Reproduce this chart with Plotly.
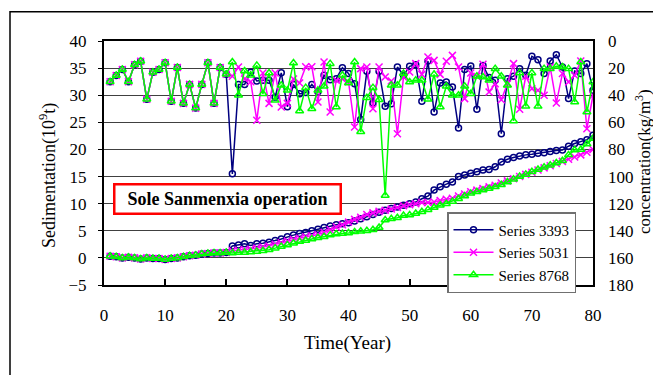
import plotly.graph_objects as go

years = list(range(1, 81))

# concentration (kg/m3), right axis, years 1-20 identical for all series
conc_common = [30, 25.5, 21, 30, 17.5, 15, 43, 23, 21, 16, 44.5, 19.5, 46, 32, 49.5, 32, 16, 46, 19.5, 24.5]
conc_3393 = conc_common + [98, 32, 32, 23, 29.5, 29, 29, 41.5, 23.5, 48.5, 32, 39, 38, 32, 37.5,
                           25.3, 28.5, 27.8, 19.7, 24, 31.5, 58, 22.4, 45.7, 22.4, 48.2, 46.2, 19.2, 25.3, 18.7,
                           17.5, 44.5, 14.8, 52.4, 31, 30.2, 34, 64.2, 21.1, 18.4, 50.4, 18, 27, 29, 68.4,
                           27.8, 26, 20.4, 25.3, 11.3, 13.8, 24, 14.8, 10.1, 19.2, 42.5, 22.1, 24, 16.7, 36.4]
conc_5031 = conc_common + [26, 19.2, 28, 30, 58.5, 23.6, 46, 23.6, 48.7, 46, 28, 31, 19, 19, 45,
                           15.5, 52.4, 29, 28, 30, 63.4, 20.4, 19.2, 50, 19.2, 26.6, 29.5, 68.4, 26.6, 22.9,
                           16.7, 24.6, 11.8, 14.3, 24.6, 15, 10.6, 19.2, 42.5, 23.6, 26, 17.2, 37.6, 31.5, 43.3,
                           31.5, 16.7, 50.4, 26, 35.2, 36.4, 40, 19.2, 45.7, 24, 30.2, 25.3, 14.8, 64.7, 40]
conc_8768 = conc_common + [15.5, 40, 22.1, 25.3, 18, 38.9, 23.6, 43.8, 32.7, 36.4, 16.2, 51.6, 34.4, 50, 36.4,
                           33.4, 16.7, 48.7, 25.3, 31, 15.5, 67, 41.8, 34.4, 43.3, 114, 32.7, 32.7, 24, 30.2,
                           29, 29, 43, 24.6, 48.7, 33.4, 40, 40, 33.4, 38.9, 26, 26.6, 29, 20.4, 26,
                           32.7, 59, 23.6, 48.2, 23.6, 48.2, 20.4, 20.4, 18.7, 19.2, 20.4, 45, 15.5, 52.4, 30.2]

# cumulative sedimentation (10^9 t), left axis
sed_common = [0.3, 0.2, 0.0, 0.1, 0.0, -0.2, 0.0, -0.1, -0.1, -0.3, -0.1, 0.0, 0.2, 0.4, 0.5, 0.7, 0.8, 0.9, 0.9, 1.0]
sed_3393 = sed_common + [2.2, 2.4, 2.6, 2.3, 2.6, 2.7, 2.9, 3.2, 3.5, 3.9, 4.2, 4.5, 4.7, 5.0, 5.3,
                         5.6, 5.9, 6.1, 6.3, 6.5, 6.8, 7.2, 7.6, 8.0, 8.4, 8.8, 9.1, 9.4, 9.7, 10.0,
                         10.3, 10.9, 11.4, 12.5, 13.1, 13.6, 14.0, 15.0, 15.3, 15.6, 15.9, 16.2, 16.3, 16.8, 17.7,
                         18.2, 18.5, 18.8, 19.0, 19.1, 19.3, 19.4, 19.6, 19.8, 19.9, 20.6, 21.1, 21.4, 21.8, 22.6]
sed_5031 = sed_common + [1.3, 1.4, 1.5, 1.6, 1.8, 2.0, 2.2, 2.5, 2.8, 3.1, 3.4, 3.6, 3.9, 4.1, 4.3,
                         4.7, 5.2, 5.7, 6.1, 6.6, 7.1, 7.5, 8.0, 8.3, 8.6, 8.8, 9.0, 9.3, 9.6, 9.8,
                         10.0, 10.2, 10.2, 10.3, 10.6, 10.8, 11.0, 11.4, 11.8, 12.2, 12.5, 12.8, 13.1, 13.4, 13.8,
                         14.2, 14.6, 15.0, 15.4, 15.8, 16.2, 16.6, 17.0, 17.4, 17.8, 18.2, 18.6, 19.0, 19.5, 20.0]
sed_8768 = sed_common + [0.9, 1.0, 1.0, 1.1, 1.2, 1.3, 1.5, 1.8, 2.1, 2.4, 2.7, 3.0, 3.2, 3.5, 3.7,
                         3.9, 4.2, 4.4, 4.5, 4.6, 4.8, 4.9, 5.0, 5.2, 5.6, 7.0, 7.2, 7.4, 7.8, 7.9,
                         8.2, 8.5, 8.9, 9.3, 9.7, 10.0, 10.4, 10.9, 11.4, 11.9, 12.2, 12.5, 12.8, 13.1, 13.5,
                         14.0, 14.5, 15.0, 15.4, 15.9, 16.3, 16.7, 17.1, 17.5, 17.9, 19.0, 19.9, 20.0, 21.0, 22.0]

series_names = ["Series 3393", "Series 5031", "Series 8768"]
colors = ["#000080", "#FF00FF", "#00FF00"]
symbols = ["circle-open", "x-thin-open", "triangle-up-open"]
msizes = [6, 7, 7]
conc_all = [conc_3393, conc_5031, conc_8768]
sed_all = [sed_3393, sed_5031, sed_8768]

FONT = "'Liberation Serif', 'Times New Roman', 'DejaVu Serif', serif"
fig = go.Figure()

for name, c, s, ms, conc in zip(series_names, colors, symbols, msizes, conc_all):
    fig.add_trace(go.Scatter(x=years, y=conc, yaxis="y2", mode="lines+markers", name=name,
                             legendgroup=name, showlegend=False,
                             line=dict(color=c, width=1.5),
                             marker=dict(symbol=s, size=ms, color=c, line=dict(color=c, width=1.5))))
for name, c, s, ms, sed in zip(series_names, colors, symbols, msizes, sed_all):
    fig.add_trace(go.Scatter(x=years, y=sed, yaxis="y", mode="lines+markers", name=name,
                             legendgroup=name, showlegend=True,
                             line=dict(color=c, width=1.5),
                             marker=dict(symbol=s, size=ms, color=c, line=dict(color=c, width=1.5))))

L, R, T, B = 104, 60, 41, 90
W, H = 653, 375
pw, ph = W - L - R, H - T - B

def px(xp):
    return (xp - L) / pw

def py(yp):
    return (H - B - yp) / ph

fig.update_layout(
    width=W, height=H,
    margin=dict(l=L, r=R, t=T, b=B, pad=0),
    paper_bgcolor="white", plot_bgcolor="white",
    font=dict(family=FONT, size=16, color="black"),
    xaxis=dict(range=[0, 80], dtick=10, ticks="inside", ticklen=6, tickwidth=1.5, tickcolor="black",
               showgrid=False, zeroline=False, showline=True, linecolor="black", linewidth=2,
               mirror=True, ticklabelstandoff=14, tickfont=dict(family=FONT, size=17)),
    yaxis=dict(range=[-5, 40], dtick=5, ticks="outside", ticklen=4, tickcolor="black",
               showgrid=True, gridcolor="#404040", gridwidth=1, zeroline=False,
               showline=True, linecolor="black", linewidth=2, mirror=True,
               ticklabelstandoff=8, tickfont=dict(family=FONT, size=17)),
    yaxis2=dict(range=[180, 0], dtick=20, overlaying="y", side="right", showgrid=False,
                zeroline=False, showline=False, ticks="", ticklabelstandoff=14,
                tickfont=dict(family=FONT, size=17)),
    legend=dict(x=px(447), y=py(212), xanchor="left", yanchor="top",
                bgcolor="white", bordercolor="#707070", borderwidth=1.5,
                font=dict(family=FONT, size=15), tracegroupgap=0, itemwidth=40),
    showlegend=True,
)

fig.add_annotation(xref="paper", yref="paper", x=px(347), y=py(343), text="Time(Year)",
                   xanchor="center", yanchor="middle",
                   showarrow=False, font=dict(family=FONT, size=19))
fig.add_annotation(xref="paper", yref="paper", x=px(48), y=py(176),
                   text="Sedimentation(10<sup>9</sup>t)", textangle=-90,
                   xanchor="center", yanchor="middle",
                   showarrow=False, font=dict(family=FONT, size=18))
fig.add_annotation(xref="paper", yref="paper", x=px(643), y=py(162),
                   text="concentration(kg/m<sup>3</sup>)", textangle=-90,
                   xanchor="center", yanchor="middle",
                   showarrow=False, font=dict(family=FONT, size=17))
fig.add_annotation(xref="paper", yref="paper", x=px(227.5), y=py(198.5),
                   text="<b>Sole Sanmenxia operation</b>", showarrow=False,
                   xanchor="center", yanchor="middle",
                   font=dict(family=FONT, size=18), bgcolor="white", bordercolor="#FF0000",
                   borderwidth=2.5, borderpad=1, width=222, height=25)

fig.add_shape(type="rect", xref="paper", yref="paper", x0=px(10), y0=py(420), x1=px(700), y1=py(11.7),
              line=dict(color="black", width=1.5), layer="below")

fig.write_html("out.html")
